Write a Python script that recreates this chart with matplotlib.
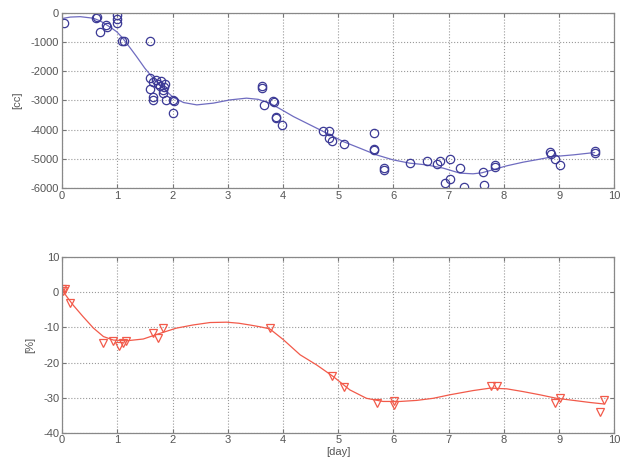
import matplotlib
matplotlib.use("Agg")
import matplotlib.pyplot as plt
import numpy as np

plt.rcParams['font.family'] = ['Liberation Sans', 'DejaVu Sans']
plt.rcParams['font.size'] = 8
plt.rcParams['axes.unicode_minus'] = False

# --- top panel: volume [cc] ---
vol_day = [0.04, 0.63, 0.62, 0.69, 0.80, 0.81, 1.0, 1.0, 1.0, 1.08, 1.12,
           1.6, 1.6, 1.6, 1.64, 1.65, 1.64, 1.70, 1.74, 1.77, 1.80, 1.82,
           1.84, 1.86, 1.83, 1.88, 2.01, 2.02, 2.0, 3.62, 3.62, 3.66, 3.82,
           3.83, 3.87, 3.88, 3.99, 4.72, 4.84, 4.84, 4.89, 5.11, 5.64, 5.64,
           5.64, 5.82, 5.82, 6.29, 6.60, 6.78, 6.84, 6.94, 7.03, 7.03, 7.20,
           7.28, 7.62, 7.64, 7.84, 7.84, 8.84, 8.85, 8.93, 9.02, 9.64, 9.64]
vol_cc = [-362, -136, -190, -648, -420, -500, -80, -200, -360, -955, -955,
          -955, -2240, -2615, -2380, -2866, -3000, -2300, -2420, -2500, -2350,
          -2650, -2550, -2450, -2750, -2980, -2980, -3030, -3413, -2520, -2580,
          -3150, -3010, -3050, -3550, -3600, -3833, -4037, -4037, -4266, -4380,
          -4493, -4117, -4660, -4700, -5311, -5390, -5140, -5051, -5160, -5080,
          -5802, -5004, -5686, -5290, -5939, -5427, -5904, -5256, -5210, -4744,
          -4830, -5004, -5198, -4778, -4740]

vol_fit_day = [0.0, 0.15, 0.33, 0.57, 0.7, 0.81, 0.9, 0.99, 1.08, 1.17, 1.26,
               1.35, 1.5, 1.65, 1.83, 2.01, 2.2, 2.44, 2.74, 3.04, 3.34, 3.55,
               3.76, 3.98, 4.19, 4.49, 4.79, 5.09, 5.39, 5.69, 5.99, 6.29,
               6.59, 6.9, 7.2, 7.44, 7.6, 7.75, 8.05, 8.35, 8.65, 8.9, 9.26,
               9.64]
vol_fit_cc = [-200, -150, -136, -190, -290, -420, -530, -650, -830, -1045,
              -1270, -1500, -1900, -2240, -2580, -2890, -3070, -3150, -3090,
              -2980, -2920, -2960, -3090, -3320, -3550, -3833, -4116, -4403,
              -4628, -4857, -5027, -5140, -5198, -5311, -5481, -5505, -5470,
              -5392, -5232, -5106, -5004, -4915, -4857, -4778]

# --- bottom panel: change [%] ---
pct_day = [0.0, 0.05, 0.02, 0.145, 0.75, 0.92, 1.04, 1.11, 1.16, 1.65, 1.74,
           1.83, 3.76, 4.89, 5.11, 5.71, 6.01, 6.01, 7.77, 7.87, 8.92, 9.01,
           9.74, 9.81]
pct_val = [1.0, 1.0, 0.3, -2.9, -14.3, -13.8, -15.3, -14.3, -14.0, -11.5,
           -13.1, -10.2, -10.2, -23.8, -26.9, -31.6, -30.9, -32.1, -26.7,
           -26.7, -31.6, -30.2, -34.0, -30.8]

pct_fit_day = [0.0, 0.1, 0.2, 0.38, 0.57, 0.75, 0.93, 1.17, 1.47, 1.77, 2.07,
               2.37, 2.68, 2.98, 3.2, 3.4, 3.58, 3.76, 4.0, 4.31, 4.61, 4.91,
               5.21, 5.51, 5.81, 6.12, 6.42, 6.72, 7.02, 7.44, 7.75, 8.05,
               8.35, 8.65, 8.95, 9.26, 9.56, 9.8]
pct_fit_val = [0.7, -1.5, -3.6, -6.9, -10.2, -12.6, -13.6, -13.8, -13.3,
               -11.7, -10.2, -9.3, -8.6, -8.5, -8.8, -9.3, -9.8, -10.4, -13.4,
               -17.8, -20.7, -24.0, -27.8, -30.2, -31.1, -31.1, -30.8, -30.2,
               -29.2, -28.0, -27.3, -27.5, -28.3, -29.2, -30.2, -30.8, -31.4,
               -31.8]

blue_pt = '#3c3a96'
blue_ln = '#6f6cc0'
red = '#f25a4a'
txt = '#555555'

fig = plt.figure(figsize=(6.27, 4.63), dpi=100)
ax1 = fig.add_axes([0.0989, 0.5933, 0.8811, 0.3793])
ax2 = fig.add_axes([0.0989, 0.0655, 0.8811, 0.3788])


def style(ax):
    ax.set_xlim(0, 10)
    ax.set_xticks(range(0, 11))
    ax.grid(True, linestyle=':', color='#999999', linewidth=0.8)
    ax.tick_params(direction='in', top=True, right=True, colors='#777777',
                   labelcolor=txt, length=3, labelsize=8, pad=2)
    for s in ax.spines.values():
        s.set_color('#888888')
        s.set_linewidth(0.9)


ax1.plot(vol_fit_day, vol_fit_cc, color=blue_ln, lw=0.9)
ax1.plot(vol_day, vol_cc, 'o', mfc='none', mec=blue_pt, ms=6, mew=0.9)
ax1.set_ylim(-6000, 0)
ax1.set_yticks(np.arange(-6000, 1, 1000))
ax1.set_ylabel('[cc]', color=txt, labelpad=6)
style(ax1)

ax2.plot(pct_fit_day, pct_fit_val, color=red, lw=0.9)
ax2.plot(pct_day, pct_val, 'v', mfc='none', mec=red, ms=6, mew=0.9)
ax2.set_ylim(-40, 10)
ax2.set_yticks(np.arange(-40, 11, 10))
ax2.set_ylabel('[%]', color=txt, labelpad=6)
ax2.set_xlabel('[day]', color=txt, labelpad=1)
style(ax2)

fig.savefig('out.png', dpi=100)
